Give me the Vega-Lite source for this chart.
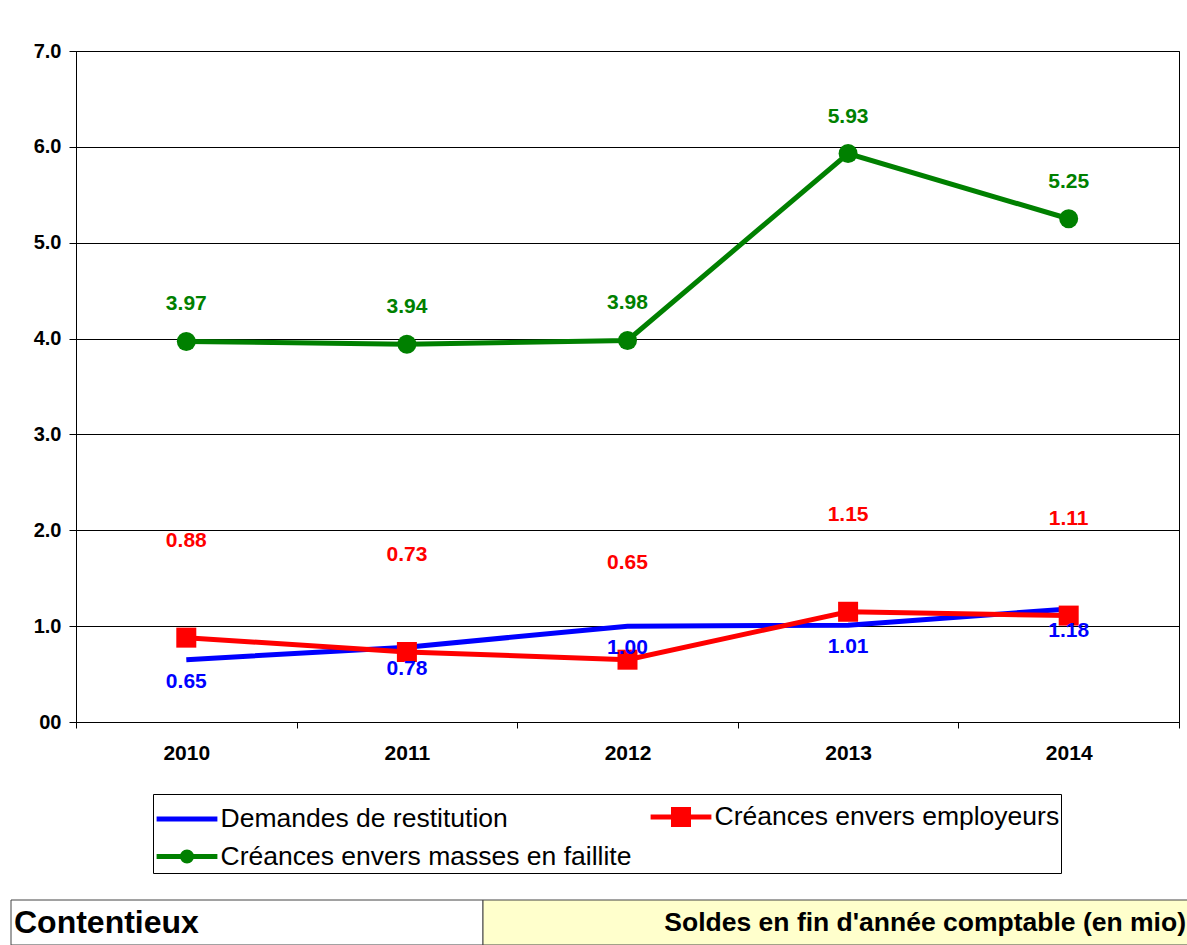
{
  "$schema": "https://vega.github.io/schema/vega-lite/v6.json",
  "padding": {"left": 10, "top": 40, "right": 0, "bottom": 0},
  "background": "#FFFFFF",
  "spacing": 135,
  "config": {
    "font": "Liberation Sans",
    "view": {"stroke": "#000000", "strokeWidth": 1},
    "axis": {"labelFont": "Liberation Sans", "labelColor": "#000000", "domainColor": "#000000", "tickColor": "#000000", "gridColor": "#000000", "gridOpacity": 1, "domainWidth": 1, "tickWidth": 1}
  },
  "datasets": {
    "series": [
      {"year": "2010", "series": "Demandes de restitution", "value": 0.65},
      {"year": "2011", "series": "Demandes de restitution", "value": 0.78},
      {"year": "2012", "series": "Demandes de restitution", "value": 1.00},
      {"year": "2013", "series": "Demandes de restitution", "value": 1.01},
      {"year": "2014", "series": "Demandes de restitution", "value": 1.18},
      {"year": "2010", "series": "Créances envers employeurs", "value": 0.88},
      {"year": "2011", "series": "Créances envers employeurs", "value": 0.73},
      {"year": "2012", "series": "Créances envers employeurs", "value": 0.65},
      {"year": "2013", "series": "Créances envers employeurs", "value": 1.15},
      {"year": "2014", "series": "Créances envers employeurs", "value": 1.11},
      {"year": "2010", "series": "Créances envers masses en faillite", "value": 3.97},
      {"year": "2011", "series": "Créances envers masses en faillite", "value": 3.94},
      {"year": "2012", "series": "Créances envers masses en faillite", "value": 3.98},
      {"year": "2013", "series": "Créances envers masses en faillite", "value": 5.93},
      {"year": "2014", "series": "Créances envers masses en faillite", "value": 5.25}
    ],
    "footer": [
      {"cell": "Contentieux", "col_start": 0, "col_end": 2},
      {"cell": "Soldes en fin d'année comptable (en mio)", "col_start": 2, "col_end": 5}
    ]
  },
  "vconcat": [
    {
      "width": 1103,
      "height": 671,
      "data": {"name": "series"},
      "encoding": {
        "x": {
          "field": "year", "type": "ordinal",
          "scale": {"paddingInner": 0, "paddingOuter": 0},
          "axis": {"title": null, "labelAngle": 0, "labelFontSize": 21, "labelFontWeight": "bold", "tickBand": "extent", "tickSize": 6, "labelPadding": 14, "grid": false}
        },
        "y": {
          "field": "value", "type": "quantitative",
          "scale": {"domain": [0, 7], "nice": false},
          "axis": {"title": null, "values": [0, 1, 2, 3, 4, 5, 6, 7], "labelExpr": "datum.value === 0 ? '00' : format(datum.value, '.1f')", "labelFontSize": 20, "labelFontWeight": "bold", "tickSize": 7, "labelPadding": 8, "grid": true, "gridWidth": 1, "minExtent": 65, "maxExtent": 65}
        }
      },
      "layer": [
        {
          "mark": {"type": "line", "strokeWidth": 5},
          "encoding": {
            "color": {
              "field": "series", "type": "nominal",
              "scale": {"domain": ["Demandes de restitution", "Créances envers employeurs", "Créances envers masses en faillite"], "range": ["#0000FF", "#FF0000", "#008000"]},
              "legend": {
                "title": null, "orient": "none", "legendX": 77, "legendY": 743,
                "direction": "horizontal",
                "columns": 2, "gridAlign": "all", "columnPadding": 8, "rowPadding": 0,
                "padding": 1, "strokeColor": "#000000", "fillColor": "#FFFFFF",
                "symbolSize": 1444, "symbolOffset": 11.5, "symbolStrokeWidth": 5, "symbolType": "stroke",
                "labelOffset": 12, "labelFontSize": 26.5, "labelFont": "Liberation Sans", "labelColor": "#000000", "labelLimit": 600,
                "encode": {
                  "symbols": {
                    "update": {
                      "shape": {"signal": "datum.value === 'Créances envers employeurs' ? 'M-1.6,0H1.6M-0.395,-0.395H0.395V0.395H-0.395Z' : (datum.value === 'Créances envers masses en faillite' ? 'M-1.6,0H1.6M0.24,0A0.24,0.24,0,1,1,-0.24,0A0.24,0.24,0,1,1,0.24,0Z' : 'M-1.6,0H1.6')"},
                      "fill": {"signal": "scale('color', datum.value)"},
                      "stroke": {"signal": "scale('color', datum.value)"},
                      "fillOpacity": {"value": 1},
                      "opacity": {"value": 1}
                    }
                  }
                }
              }
            }
          }
        },
        {
          "transform": [{"filter": "datum.series === 'Créances envers employeurs'"}],
          "mark": {"type": "point", "shape": "square", "filled": true, "opacity": 1, "size": 400, "color": "#FF0000"}
        },
        {
          "transform": [{"filter": "datum.series === 'Créances envers masses en faillite'"}],
          "mark": {"type": "point", "shape": "circle", "filled": true, "opacity": 1, "size": 360, "color": "#008000"}
        },
        {
          "transform": [{"filter": "datum.series === 'Créances envers employeurs'"}],
          "mark": {"type": "text", "fontSize": 21, "fontWeight": "bold", "color": "#FF0000", "baseline": "middle", "dy": -97},
          "encoding": {"text": {"field": "value", "type": "quantitative", "format": ".2f"}}
        },
        {
          "transform": [{"filter": "datum.series === 'Créances envers masses en faillite'"}],
          "mark": {"type": "text", "fontSize": 21, "fontWeight": "bold", "color": "#008000", "baseline": "middle", "dy": -37},
          "encoding": {"text": {"field": "value", "type": "quantitative", "format": ".2f"}}
        },
        {
          "transform": [{"filter": "datum.series === 'Demandes de restitution'"}],
          "mark": {"type": "text", "fontSize": 21, "fontWeight": "bold", "color": "#0000FF", "baseline": "middle", "dy": 22},
          "encoding": {"text": {"field": "value", "type": "quantitative", "format": ".2f"}}
        }
      ]
    },
    {
      "width": 1180,
      "height": 45,
      "view": {"stroke": null},
      "data": {"name": "footer"},
      "encoding": {
        "x": {"field": "col_start", "type": "quantitative", "scale": {"domain": [0, 5], "range": [-65, 1115], "nice": false, "zero": true}, "axis": null}
      },
      "layer": [
        {
          "mark": {"type": "rect", "stroke": "#444444", "strokeWidth": 1},
          "encoding": {
            "x2": {"field": "col_end"},
            "fill": {"field": "cell", "type": "nominal", "scale": {"domain": ["Contentieux", "Soldes en fin d'année comptable (en mio)"], "range": ["#FFFFFF", "#FFFFCC"]}, "legend": null}
          }
        },
        {
          "transform": [{"filter": "datum.cell === 'Contentieux'"}],
          "mark": {"type": "text", "align": "left", "baseline": "middle", "dx": 3, "fontSize": 32, "fontWeight": "bold", "color": "#000000"},
          "encoding": {"text": {"field": "cell"}}
        },
        {
          "transform": [{"filter": "datum.cell !== 'Contentieux'"}],
          "mark": {"type": "text", "align": "right", "baseline": "middle", "dx": -5, "fontSize": 26.5, "fontWeight": "bold", "color": "#000000"},
          "encoding": {"x": {"field": "col_end", "type": "quantitative"}, "text": {"field": "cell"}}
        }
      ]
    }
  ]
}
